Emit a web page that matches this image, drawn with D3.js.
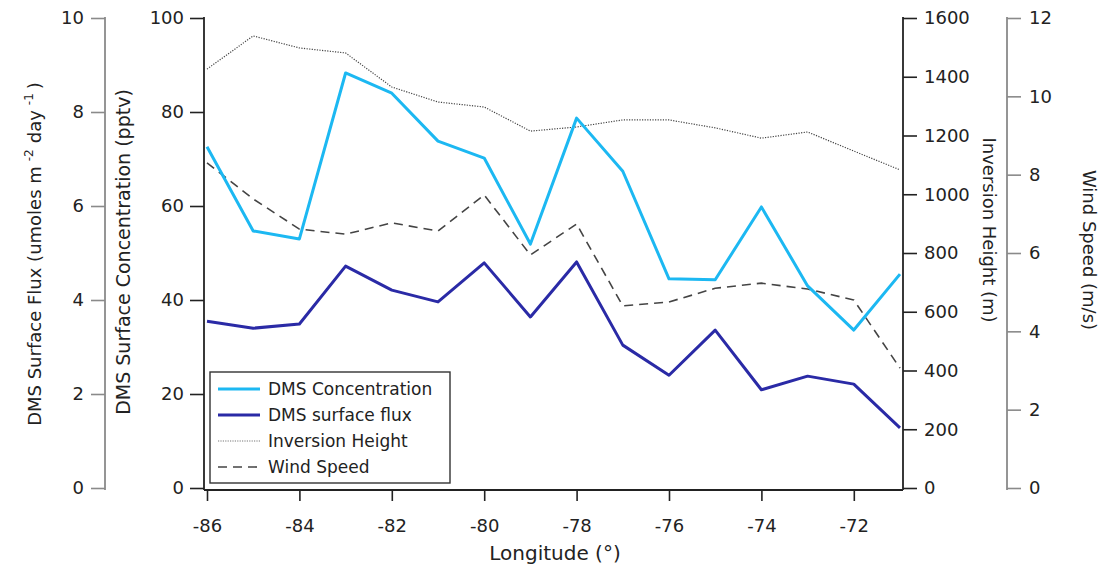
<!DOCTYPE html>
<html>
<head>
<meta charset="utf-8">
<script src="https://cdn.jsdelivr.net/npm/d3@7"></script>
<style>
  body { margin: 0; background: #fff; }
  text { font-family: "DejaVu Sans", Verdana, sans-serif; fill: #222; }
  .tick text { font-size: 18px; }
</style>
</head>
<body>
<div id="chart"></div>
<script>
const W = 1106, H = 571;
// longitude of each sample
const longitude = [-86, -85, -84, -83, -82, -81, -80, -79, -78, -77, -76, -75, -74, -73, -72, -71];
const dmsConc = [72.6, 54.7, 53.0, 88.3, 84.0, 73.8, 70.2, 51.9, 78.7, 67.4, 44.5, 44.3, 59.8, 43.0, 33.6, 45.5]; // pptv
const dmsFlux = [3.55, 3.40, 3.49, 4.72, 4.21, 3.96, 4.79, 3.64, 4.81, 3.04, 2.40, 3.36, 2.09, 2.38, 2.21, 1.28]; // umol m-2 day-1
const invHeight = [1426, 1539, 1498, 1481, 1365, 1314, 1297, 1215, 1229, 1253, 1253, 1226, 1191, 1212, 1147, 1083]; // m
const windSpeed = [8.3, 7.38, 6.61, 6.48, 6.77, 6.56, 7.48, 5.95, 6.74, 4.65, 4.75, 5.1, 5.23, 5.08, 4.8, 3.06]; // m/s
const xTicks = [-86, -84, -82, -80, -78, -76, -74, -72];
const concTicks = [0, 20, 40, 60, 80, 100];
const fluxTicks = [0, 2, 4, 6, 8, 10];
const invTicks = [0, 200, 400, 600, 800, 1000, 1200, 1400, 1600];
const windTicks = [0, 2, 4, 6, 8, 10, 12];
const legendNames = ["DMS Concentration", "DMS surface flux", "Inversion Height", "Wind Speed"];

const TOP = 18, BOT = 488;
const X0 = 207, X1 = 900;
const AX_CONC = 204, AX_FLUX = 105, AX_INV = 903, AX_WIND = 1007;
const colConc = "#1cb8f2", colFlux = "#2a2aa6";
const plain = d => String(d); // hyphen minus, no thousands comma

const svg = d3.select("#chart").append("svg").attr("width", W).attr("height", H);

const x = d3.scaleLinear().domain([-86, -71]).range([X0, X1]);
const yConc = d3.scaleLinear().domain([0, 100]).range([BOT, TOP]);
const yFlux = d3.scaleLinear().domain([0, 10]).range([BOT, TOP]);
const yInv = d3.scaleLinear().domain([0, 1600]).range([BOT, TOP]);
const yWind = d3.scaleLinear().domain([0, 12]).range([BOT, TOP]);

function styleAxis(g, color) {
  g.select(".domain").remove();
  g.selectAll(".tick line").attr("stroke", color).attr("stroke-width", 1.6);
  g.selectAll(".tick text").attr("fill", "#222");
}
function axisLine(xp, color) {
  svg.append("line").attr("x1", xp).attr("x2", xp).attr("y1", TOP - 1).attr("y2", BOT + 2)
    .attr("stroke", color).attr("stroke-width", 1.8);
}

// left axes
svg.append("g").attr("transform", `translate(${AX_FLUX},0)`)
  .call(d3.axisLeft(yFlux).tickValues(fluxTicks).tickFormat(plain).tickSize(14).tickPadding(7))
  .call(g => styleAxis(g, "#8a8a8a"));
axisLine(AX_FLUX, "#8a8a8a");
svg.append("g").attr("transform", `translate(${AX_CONC},0)`)
  .call(d3.axisLeft(yConc).tickValues(concTicks).tickFormat(plain).tickSize(14).tickPadding(6))
  .call(g => styleAxis(g, "#222"));
axisLine(AX_CONC, "#222");

// right axes
svg.append("g").attr("transform", `translate(${AX_INV},0)`)
  .call(d3.axisRight(yInv).tickValues(invTicks).tickFormat(plain).tickSize(14).tickPadding(7))
  .call(g => styleAxis(g, "#222"));
axisLine(AX_INV, "#222");
svg.append("g").attr("transform", `translate(${AX_WIND},0)`)
  .call(d3.axisRight(yWind).tickValues(windTicks).tickFormat(plain).tickSize(14).tickPadding(8))
  .call(g => styleAxis(g, "#8a8a8a"));
axisLine(AX_WIND, "#8a8a8a");

// bottom axis
svg.append("g").attr("transform", `translate(0,${BOT + 2})`)
  .call(d3.axisBottom(x).tickValues(xTicks).tickFormat(plain).tickSize(11).tickPadding(18))
  .call(g => styleAxis(g, "#222"));
svg.append("line").attr("x1", AX_CONC).attr("x2", AX_INV).attr("y1", BOT + 2).attr("y2", BOT + 2)
  .attr("stroke", "#222").attr("stroke-width", 1.8);

// axis titles
svg.append("text").attr("x", 555).attr("y", 560).attr("text-anchor", "middle")
  .style("font-size", "20px").text("Longitude (°)");
svg.append("text").attr("transform", "translate(130,252) rotate(-90)").attr("text-anchor", "middle")
  .style("font-size", "19px").text("DMS Surface Concentration (pptv)");
const ft = svg.append("text").attr("transform", "translate(41,254) rotate(-90)").attr("text-anchor", "middle")
  .style("font-size", "18px");
ft.append("tspan").text("DMS Surface Flux (umoles m");
ft.append("tspan").attr("dx", 5).attr("dy", -8).style("font-size", "12px").text("-2");
ft.append("tspan").attr("dx", 6).attr("dy", 8).text("day");
ft.append("tspan").attr("dx", 5).attr("dy", -8).style("font-size", "12px").text("-1");
ft.append("tspan").attr("dx", 4).attr("dy", 8).text(")");
svg.append("text").attr("transform", "translate(983,230) rotate(90)").attr("text-anchor", "middle")
  .style("font-size", "18px").text("Inversion Height (m)");
svg.append("text").attr("transform", "translate(1083,250) rotate(90)").attr("text-anchor", "middle")
  .style("font-size", "18px").text("Wind Speed (m/s)");

// series
function drawLine(vals, yScale, color, width, dash) {
  const data = longitude.map((lon, i) => ({ x: lon, y: vals[i] }));
  svg.append("path").datum(data)
    .attr("d", d3.line().x(d => x(d.x)).y(d => yScale(d.y)))
    .attr("fill", "none").attr("stroke", color).attr("stroke-width", width)
    .attr("stroke-dasharray", dash).attr("stroke-linejoin", "round");
}
drawLine(invHeight, yInv, "#444", 1.2, "1.2,1.4");
drawLine(windSpeed, yWind, "#444", 1.6, "9,6");
drawLine(dmsFlux, yFlux, colFlux, 3, null);
drawLine(dmsConc, yConc, colConc, 3, null);

// legend
const lg = svg.append("g").attr("transform", "translate(210,372)");
lg.append("rect").attr("width", 240).attr("height", 111).attr("fill", "#fff")
  .attr("stroke", "#333").attr("stroke-width", 1.4);
const legendStyle = [
  { color: colConc, w: 3, dash: null },
  { color: colFlux, w: 3, dash: null },
  { color: "#777", w: 1.2, dash: "1.2,1.2" },
  { color: "#444", w: 1.6, dash: "9,6" }
];
legendNames.forEach((name, i) => {
  const yy = 17 + i * 26;
  lg.append("line").attr("x1", 8).attr("x2", 50).attr("y1", yy).attr("y2", yy)
    .attr("stroke", legendStyle[i].color).attr("stroke-width", legendStyle[i].w)
    .attr("stroke-dasharray", legendStyle[i].dash);
  lg.append("text").attr("x", 58).attr("y", yy).attr("dy", "0.35em")
    .style("font-size", "17px").text(name);
});
</script>
</body>
</html>
